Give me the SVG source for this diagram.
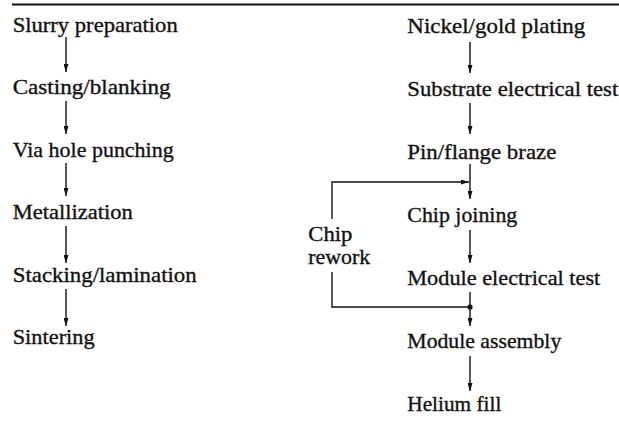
<svg xmlns="http://www.w3.org/2000/svg" width="619" height="424" viewBox="0 0 619 424">
<defs>
<marker id="ah" viewBox="0 0 8 5" markerWidth="8" markerHeight="5" refX="8" refY="2.5" orient="auto" markerUnits="userSpaceOnUse">
<path d="M0,0 L8,2.5 L0,5 z" fill="#111"/>
</marker>
<style>
.t{font-family:'Liberation Serif','Times New Roman','DejaVu Serif',serif;font-size:22px;fill:#111;stroke:#111;stroke-width:0.35;}
.r{font-size:21px;}
.c{fill:none;stroke:#111;stroke-width:1.4;}
.a{marker-end:url(#ah);}
</style>
</defs>
<rect x="0" y="0" width="619" height="424" fill="#fff"/>
<line x1="12" y1="4.5" x2="619" y2="4.5" stroke="#111" stroke-width="2"/>
<g id="n-slurry"><text class="t" font-family="Liberation Serif, serif" x="12.7" y="32" textLength="165" lengthAdjust="spacingAndGlyphs">Slurry preparation</text></g>
<g id="n-casting"><text class="t" font-family="Liberation Serif, serif" x="12.7" y="94" textLength="158" lengthAdjust="spacingAndGlyphs">Casting/blanking</text></g>
<g id="n-via"><text class="t" font-family="Liberation Serif, serif" x="12.7" y="157" textLength="161" lengthAdjust="spacingAndGlyphs">Via hole punching</text></g>
<g id="n-metal"><text class="t" font-family="Liberation Serif, serif" x="12.7" y="219" textLength="120" lengthAdjust="spacingAndGlyphs">Metallization</text></g>
<g id="n-stack"><text class="t" font-family="Liberation Serif, serif" x="12.7" y="282" textLength="184" lengthAdjust="spacingAndGlyphs">Stacking/lamination</text></g>
<g id="n-sinter"><text class="t" font-family="Liberation Serif, serif" x="12.7" y="344" textLength="82" lengthAdjust="spacingAndGlyphs">Sintering</text></g>
<g id="n-nickel"><text class="t" font-family="Liberation Serif, serif" x="407.3" y="33" textLength="178" lengthAdjust="spacingAndGlyphs">Nickel/gold plating</text></g>
<g id="n-subtest"><text class="t" font-family="Liberation Serif, serif" x="407.3" y="96" textLength="211" lengthAdjust="spacingAndGlyphs">Substrate electrical test</text></g>
<g id="n-pin"><text class="t" font-family="Liberation Serif, serif" x="407.3" y="159" textLength="149" lengthAdjust="spacingAndGlyphs">Pin/flange braze</text></g>
<g id="n-chipjoin"><text class="t" font-family="Liberation Serif, serif" x="407.3" y="222" textLength="110" lengthAdjust="spacingAndGlyphs">Chip joining</text></g>
<g id="n-modtest"><text class="t" font-family="Liberation Serif, serif" x="407.3" y="285" textLength="193" lengthAdjust="spacingAndGlyphs">Module electrical test</text></g>
<g id="n-modasm"><text class="t" font-family="Liberation Serif, serif" x="407.3" y="348" textLength="154" lengthAdjust="spacingAndGlyphs">Module assembly</text></g>
<g id="n-helium"><text class="t" font-family="Liberation Serif, serif" x="407.3" y="411" textLength="94" lengthAdjust="spacingAndGlyphs">Helium fill</text></g>
<g id="n-rework"><text class="t r" font-family="Liberation Serif, serif" x="308.3" y="241" textLength="44" lengthAdjust="spacingAndGlyphs">Chip</text><text class="t r" font-family="Liberation Serif, serif" x="308.3" y="264" textLength="62" lengthAdjust="spacingAndGlyphs">rework</text></g>
<g id="connectors">
<line class="c a" x1="66" y1="37" x2="66" y2="72"/>
<line class="c a" x1="66" y1="101" x2="66" y2="134"/>
<line class="c a" x1="66" y1="163" x2="66" y2="196"/>
<line class="c a" x1="66" y1="226" x2="66" y2="263"/>
<line class="c a" x1="66" y1="289" x2="66" y2="326"/>
<line class="c a" x1="470" y1="42" x2="470" y2="73"/>
<line class="c a" x1="470" y1="103" x2="470" y2="134"/>
<line class="c a" x1="470" y1="164" x2="470" y2="199"/>
<path class="c a" d="M332,219 V182 H469"/>
<line class="c a" x1="470" y1="230" x2="470" y2="263"/>
<line class="c a" x1="470" y1="292" x2="470" y2="326"/>
<path class="c" d="M332,272 V307 H470"/>
<circle cx="470" cy="307" r="2.6" fill="#111"/>
<line class="c a" x1="470" y1="356" x2="470" y2="391"/>
</g>
</svg>
